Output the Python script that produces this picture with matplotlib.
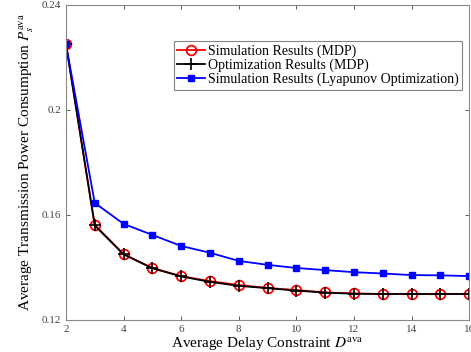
import numpy as np
import matplotlib.pyplot as plt

plt.rcParams['font.family'] = 'Liberation Serif'
plt.rcParams['mathtext.fontset'] = 'stix'

delay = [2, 3, 4, 5, 6, 7, 8, 9, 10, 11, 12, 13, 14, 15, 16]
sim_mdp = [0.2251, 0.1562, 0.1451, 0.1398, 0.1367, 0.1348, 0.1333, 0.1322, 0.1314,
           0.1305, 0.1301, 0.1299, 0.1299, 0.1299, 0.1299]
opt_mdp = [0.2251, 0.1560, 0.1450, 0.1397, 0.1366, 0.1345, 0.1330, 0.1321, 0.1312,
           0.1304, 0.1300, 0.1299, 0.1299, 0.1299, 0.1299]
sim_lyap = [0.2251, 0.1646, 0.1566, 0.1524, 0.1482, 0.1456, 0.1425, 0.1410, 0.1398,
            0.1390, 0.1382, 0.1377, 0.1371, 0.1370, 0.1367]

fig = plt.figure(figsize=(4.71, 3.52), dpi=100)
ax = fig.add_axes([0.140, 0.091, 0.856, 0.895])

ax.plot(delay, sim_mdp, '-o', color='red', lw=1.3, ms=7, mfc='none', mew=1.3,
        label='Simulation Results (MDP)')
ax.plot(delay, opt_mdp, '-+', color='black', lw=1.3, ms=8, mew=1.2,
        label='Optimization Results (MDP)')
ax.plot(delay, sim_lyap, '-s', color='blue', lw=1.3, ms=5,
        label='Simulation Results (Lyapunov Optimization)')

ax.set_xlim(2, 16)
ax.set_ylim(0.12, 0.24)
ax.set_xticks(range(2, 17, 2))
ax.set_yticks([0.12, 0.16, 0.2, 0.24])
ax.set_yticklabels(['0.12', '0.16', '0.2', '0.24'])
ax.tick_params(direction='in', top=True, right=True, labelsize=8, colors='#444444',
               length=3, width=0.6)
for s in ax.spines.values():
    s.set_color('#888888')
    s.set_linewidth(0.8)

ax.set_xlabel(r'Average Delay Constraint $D^{\rm ava}$', fontsize=11, labelpad=1)
ax.set_ylabel(r'Average Transmission Power Consumption $P_s^{\rm ava}$', fontsize=11, labelpad=4)

leg = ax.legend(loc='upper right', bbox_to_anchor=(0.983, 0.885), fontsize=10,
                frameon=True, fancybox=False, edgecolor='#666666',
                handlelength=2.0, handletextpad=0.2, borderpad=0.25, labelspacing=0.05,
                borderaxespad=0)
leg.get_frame().set_linewidth(0.8)

fig.savefig('out.png', dpi=100)
